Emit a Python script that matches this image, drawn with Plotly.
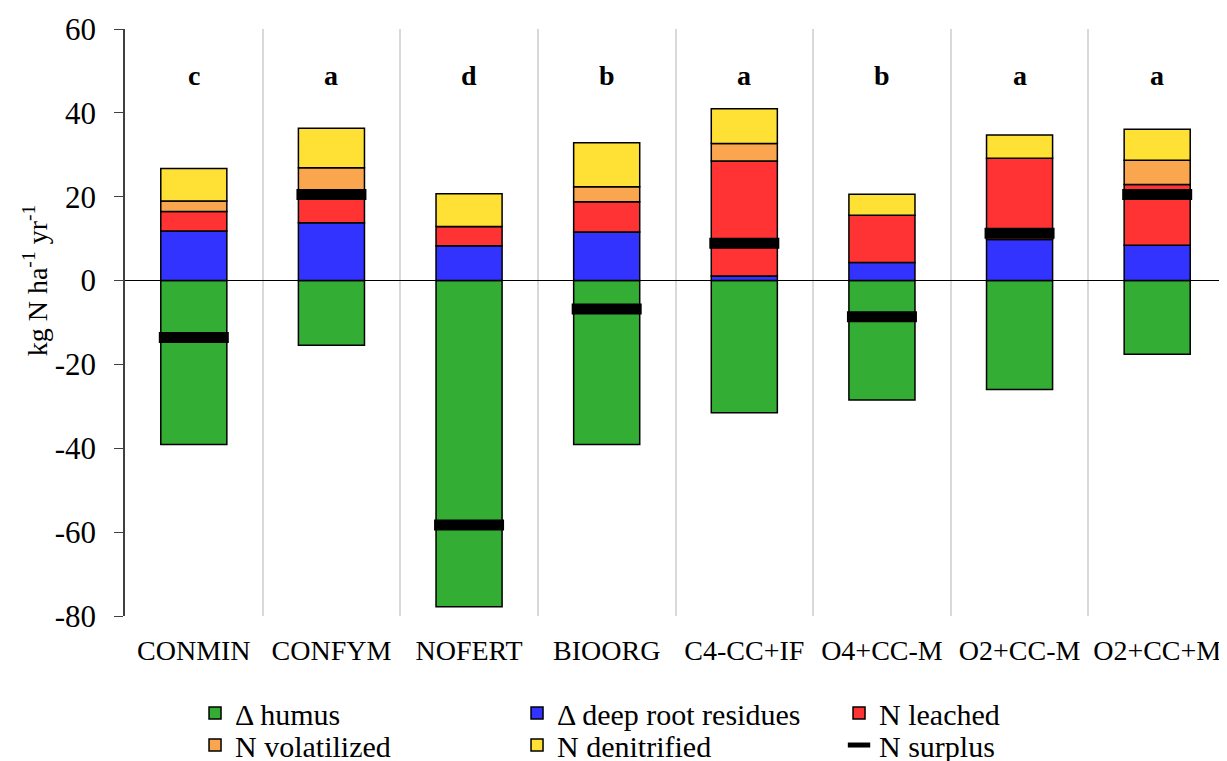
import plotly.graph_objects as go

categories = ["CONMIN", "CONFYM", "NOFERT", "BIOORG", "C4-CC+IF", "O4+CC-M", "O2+CC-M", "O2+CC+M"]
humus = [-39.1, -15.4, -77.8, -39.1, -31.5, -28.5, -26.0, -17.6]
deep_root = [11.8, 13.8, 8.3, 11.6, 1.1, 4.3, 9.8, 8.4]
leached = [4.7, 7.7, 4.6, 7.2, 27.4, 11.3, 19.4, 14.5]
volatilized = [2.5, 5.4, 0.0, 3.6, 4.2, 0.0, 0.0, 5.8]
denitrified = [7.7, 9.4, 7.8, 10.5, 8.3, 5.0, 5.5, 7.4]
surplus = [-13.6, 20.5, -58.3, -6.8, 8.9, -8.6, 11.3, 20.5]
letters = ["c", "a", "d", "b", "a", "b", "a", "a"]
letter_y = 49
y_ticks = [-80, -60, -40, -20, 0, 20, 40, 60]
y_ticktext = ["-80", "-60", "-40", "-20", "0", "20", "40", "60"]

FONT = "Liberation Serif"

series = [
    ("\u0394 humus", humus, "#33AD33", "legend"),
    ("\u0394 deep root residues", deep_root, "#3333FF", "legend"),
    ("N leached", leached, "#FF3333", "legend"),
    ("N volatilized", volatilized, "#F9A64F", "legend2"),
    ("N denitrified", denitrified, "#FFE135", "legend2"),
]

fig = go.Figure()
for name, vals, col, lg in series:
    fig.add_trace(go.Bar(
        x=categories, y=vals, name=name, legend=lg,
        marker=dict(color=col, line=dict(color="black", width=1.5)),
    ))

fig.add_trace(go.Scatter(
    x=categories, y=surplus, name="N surplus", mode="markers", legend="legend2",
    marker=dict(symbol="line-ew", size=50, color="black",
                line=dict(color="black", width=11)),
))

for c, l in zip(categories, letters):
    fig.add_annotation(x=c, y=letter_y, text="<b>%s</b>" % l, showarrow=False,
                       font=dict(family=FONT, size=28, color="black"))

fig.add_annotation(
    x=-0.0817, y=0.572, xref="paper", yref="paper", xanchor="center", yanchor="middle",
    text="kg N ha<sup>-1</sup> yr<sup>-1</sup>", textangle=-90, showarrow=False,
    font=dict(family=FONT, size=28, color="black"),
)

legend_common = dict(
    orientation="h", x=0.0636, xanchor="left", yanchor="middle",
    entrywidth=277, entrywidthmode="pixels",
    font=dict(family=FONT, size=30, color="black"),
    traceorder="normal", itemsizing="trace", bgcolor="rgba(0,0,0,0)",
)

fig.update_layout(
    width=1227, height=761,
    barmode="relative", bargap=0.52,
    paper_bgcolor="white", plot_bgcolor="white",
    margin=dict(l=117, r=9, t=21, b=153, autoexpand=False),
    font=dict(family=FONT, color="black"),
    showlegend=True,
    legend=dict(y=-0.1652, **legend_common),
    legend2=dict(y=-0.2198, **legend_common),
)

fig.update_xaxes(
    type="category", tickson="boundaries", showgrid=True,
    range=[-0.5, 7.5], tickangle=0,
    gridcolor="#D9D9D9", gridwidth=2, ticks="", showline=False,
    zeroline=False, ticklabelstandoff=15,
    tickfont=dict(family=FONT, size=28, color="black"),
)
fig.update_yaxes(
    range=[-80, 60], tickmode="array", tickvals=y_ticks, ticktext=y_ticktext,
    showgrid=False,
    showline=True, linecolor="#404040", linewidth=1.5,
    ticks="outside", ticklen=9, tickcolor="#404040",
    zeroline=True, zerolinecolor="black", zerolinewidth=1.2,
    ticklabelstandoff=12,
    tickfont=dict(family=FONT, size=31, color="black"),
)

fig.write_html("out.html")
